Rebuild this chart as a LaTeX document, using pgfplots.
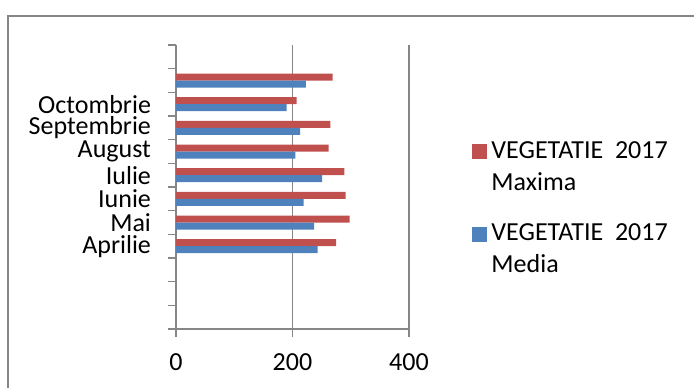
\documentclass[border=0pt]{standalone}
\usepackage{fontspec}
\setmainfont{Carlito}
\usepackage{pgfplots}
\pgfplotsset{compat=1.18}
\definecolor{exred}{HTML}{C0504D}
\definecolor{exblue}{HTML}{4F81BD}
\definecolor{exgray}{HTML}{868686}
\begin{document}
\begin{tikzpicture}
\useasboundingbox (0,0) rectangle (347pt,193.5pt);
\draw[exgray, line width=0.8pt] (4pt,-5pt) -- (4pt,185.5pt) -- (360pt,185.5pt);
\begin{axis}[
  at={(88pt,29pt)}, anchor=south west,
  scale only axis, width=116.5pt, height=142pt,
  xbar, bar width=3.5pt,
  xmin=0, xmax=400, ymin=0.5, ymax=12.5,
  xtick={0,200,400},
  ytick={0.5,1.5,...,12.5},
  yticklabels={},
  extra y ticks={1,...,12},
  extra y tick labels={,,,Aprilie,Mai,Iunie,Iulie,August,Septembrie,Octombrie,,},
  extra y tick style={major tick length=0pt, grid=none,
    yticklabel style={xshift=-9pt}},
  axis x line*=bottom, axis y line*=left,
  axis line style={exgray, line width=0.75pt},
  tick align=outside,
  major tick length=4pt,
  tick style={exgray, line width=0.75pt},
  xmajorgrids=true,
  grid style={exgray, line width=0.75pt},
  /pgf/number format/assume math mode=true,
  tick label style={font=\fontsize{13}{16}\selectfont},
  xticklabel style={yshift=-5pt},
  legend cell align=left,
  legend style={draw=none, fill=none, at={(1.245,0.69)}, anchor=north west,
    font=\fontsize{13}{15.9}\selectfont, row sep=11.5pt,
    cells={align=left}},
  legend image code/.code={\fill[#1] (0pt,4pt) rectangle (7.5pt,11.5pt);},
]
\addplot[xbar, fill=exred, draw=none, bar shift=1.75pt] coordinates {
  (275,4) (298,5) (291,6) (289,7) (262,8) (265,9) (207,10) (269,11)};
\addlegendentry{VEGETATIE\ \ 2017\\Maxima}
\addplot[xbar, fill=exblue, draw=none, bar shift=-1.75pt] coordinates {
  (243,4) (237,5) (219,6) (251,7) (205,8) (213,9) (190,10) (223,11)};
\addlegendentry{VEGETATIE\ \ 2017\\Media}
\end{axis}
\end{tikzpicture}
\end{document}
